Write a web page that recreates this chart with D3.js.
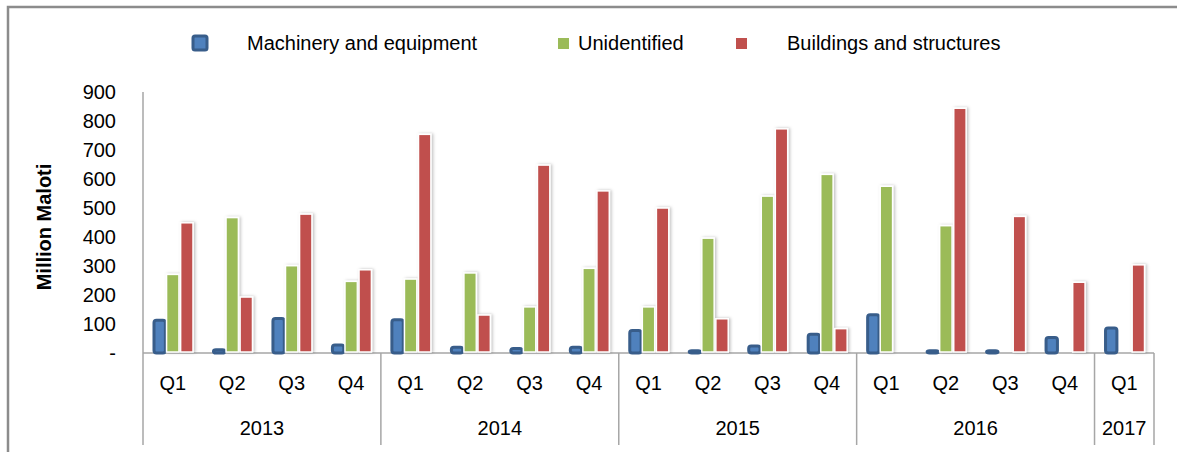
<!DOCTYPE html>
<html>
<head>
<meta charset="utf-8">
<script src="https://cdn.jsdelivr.net/npm/d3@7"></script>
<style>
  html, body { margin: 0; padding: 0; background: #fff; }
  svg { display: block; font-family: "Liberation Sans", Arial, sans-serif; }
</style>
</head>
<body>
<svg id="chart" width="1177" height="453"></svg>
<script>
const quarters = ["Q1","Q2","Q3","Q4","Q1","Q2","Q3","Q4","Q1","Q2","Q3","Q4","Q1","Q2","Q3","Q4","Q1"];
const years = [
  {label: "2013", start: 0, end: 4},
  {label: "2014", start: 4, end: 8},
  {label: "2015", start: 8, end: 12},
  {label: "2016", start: 12, end: 16},
  {label: "2017", start: 16, end: 17}
];
const seriesNames = ["Machinery and equipment", "Unidentified", "Buildings and structures"];
const machinery    = [118, 16, 124, 33, 120, 25, 21, 25, 83, 13, 29, 70, 137, 13, 13, 59, 91];
const unidentified = [271, 467, 301, 247, 255, 276, 159, 292, 159, 396, 541, 616, 575, 439, 0, 0, 0];
const buildings    = [449, 193, 479, 287, 754, 131, 648, 559, 500, 118, 773, 84, 0, 844, 471, 244, 304];
const yTicks = [0, 100, 200, 300, 400, 500, 600, 700, 800, 900];
const yLabel = "Million Maloti";

(function () {
const series = [machinery, unidentified, buildings];
const svg = d3.select("#chart");

const pLeft = 143, pRight = 1154, pTop = 92, pBase = 353, axisBottom = 445;
const fs = 20;

// frame
svg.append("path")
  .attr("d", `M8,452 L8,7 L1177,7`)
  .attr("fill", "none").attr("stroke", "#8c8c8c").attr("stroke-width", 2.5);

const defs = svg.append("defs");
const f = defs.append("filter").attr("id", "shadow")
  .attr("x", "-50%").attr("y", "-10%").attr("width", "200%").attr("height", "120%");
f.append("feDropShadow").attr("dx", 1.5).attr("dy", 0).attr("stdDeviation", 1.5)
  .attr("flood-color", "#000").attr("flood-opacity", 0.25);

const x = d3.scaleBand().domain(d3.range(quarters.length)).range([pLeft, pRight]).padding(0);
const xs = d3.scaleBand().domain([0, 1, 2]).range([9.5, 50]).paddingInner(0.12);
const y = d3.scaleLinear().domain([0, 900]).range([pBase, pTop]);

// y axis labels
const yAxis = d3.axisLeft(y).tickValues(yTicks).tickSize(0).tickPadding(0)
  .tickFormat(d => d === 0 ? "-" : d3.format("d")(d));
const yg = svg.append("g").attr("transform", `translate(116,0)`).call(yAxis);
yg.select(".domain").remove();
yg.selectAll("text").attr("font-size", fs).attr("fill", "#000")
  .attr("font-family", "'Liberation Sans', Arial, sans-serif");

// y label
svg.append("text")
  .attr("transform", `translate(51,227) rotate(-90)`)
  .attr("text-anchor", "middle")
  .attr("font-size", fs).attr("font-weight", "bold")
  .text(yLabel);

// axis lines
svg.append("line").attr("x1", pLeft).attr("x2", pLeft).attr("y1", pTop).attr("y2", axisBottom)
  .attr("stroke", "#a6a6a6").attr("stroke-width", 1.5);
svg.append("line").attr("x1", pLeft).attr("x2", pRight).attr("y1", pBase).attr("y2", pBase)
  .attr("stroke", "#a6a6a6").attr("stroke-width", 1.5);

// year separators
const sepIdx = years.map(yr => yr.end);
svg.selectAll(".sep").data(sepIdx).enter().append("line")
  .attr("x1", d => d >= quarters.length ? pRight : x(d))
  .attr("x2", d => d >= quarters.length ? pRight : x(d))
  .attr("y1", pBase).attr("y2", axisBottom)
  .attr("stroke", "#a6a6a6").attr("stroke-width", 1.5);

// bars
const groups = svg.selectAll(".grp").data(d3.range(quarters.length)).enter().append("g")
  .attr("transform", i => `translate(${x(i)},0)`);

const colors = ["#4f81bd", "#9bbb59", "#c0504d"];

groups.each(function(i) {
  const g = d3.select(this);
  series.forEach((s, k) => {
    const v = s[i];
    if (v <= 0) return;
    if (k === 0) {
      g.append("rect")
        .attr("x", xs(k) + 1.5).attr("y", y(v) + 1.5)
        .attr("width", xs.bandwidth() - 1).attr("height", Math.max(0, pBase - y(v) - 1.5))
        .attr("rx", 2.5)
        .attr("fill", "#4f81bd").attr("stroke", "#385d8a").attr("stroke-width", 3);
    } else {
      g.append("rect")
        .attr("x", xs(k)).attr("y", y(v))
        .attr("width", xs.bandwidth()).attr("height", pBase - y(v) - 1)
        .attr("fill", colors[k]).attr("stroke", "#fff").attr("stroke-width", 1.5)
        .attr("filter", "url(#shadow)");
    }
  });
});

// x labels
svg.selectAll(".q").data(quarters).enter().append("text")
  .attr("x", (d, i) => x(i) + x.bandwidth() / 2).attr("y", 390)
  .attr("text-anchor", "middle").attr("font-size", fs).text(d => d);
svg.selectAll(".yr").data(years).enter().append("text")
  .attr("x", d => (x(d.start) + (d.end >= quarters.length ? pRight : x(d.end))) / 2).attr("y", 435)
  .attr("text-anchor", "middle").attr("font-size", fs).text(d => d.label);

// legend
const legendItems = [
  {name: seriesNames[0], mx: 193, tx: 247},
  {name: seriesNames[1], mx: 558, tx: 578},
  {name: seriesNames[2], mx: 736, tx: 787}
];
legendItems.forEach((it, k) => {
  if (k === 0) {
    svg.append("rect").attr("x", it.mx).attr("y", 36).attr("width", 14).attr("height", 14)
      .attr("rx", 2).attr("fill", "#4f81bd").attr("stroke", "#385d8a").attr("stroke-width", 3);
  } else {
    svg.append("rect").attr("x", it.mx).attr("y", 38).attr("width", 11).attr("height", 11)
      .attr("fill", colors[k]);
  }
  svg.append("text").attr("x", it.tx).attr("y", 50).attr("font-size", fs).text(it.name);
});
})();
</script>
</body>
</html>
